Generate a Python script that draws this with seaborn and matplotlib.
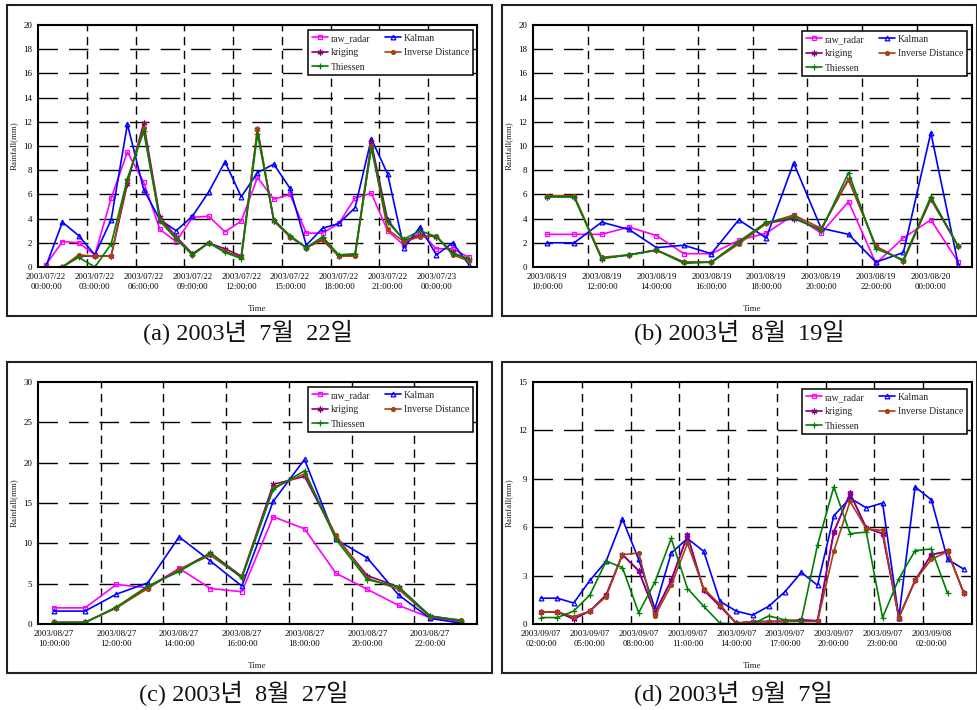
import numpy as np
import pandas as pd
import matplotlib
matplotlib.use('Agg')
import matplotlib.pyplot as plt
import seaborn as sns
from matplotlib.patches import Rectangle

# ---------------- data ----------------
ticks_a = ['2003/07/22\n00:00:00', '2003/07/22\n03:00:00', '2003/07/22\n06:00:00',
           '2003/07/22\n09:00:00', '2003/07/22\n12:00:00', '2003/07/22\n15:00:00',
           '2003/07/22\n18:00:00', '2003/07/22\n21:00:00', '2003/07/23\n00:00:00']
raw_a = [0.2, 2.1, 2.0, 1.0, 5.7, 9.5, 7.0, 3.1, 2.1, 4.1, 4.2, 2.9, 3.8, 7.4, 5.6, 6.0,
         2.8, 2.8, 3.6, 5.7, 6.1, 3.0, 1.8, 2.9, 1.5, 1.5, 0.8]
kal_a = [0.1, 3.7, 2.6, 1.0, 3.9, 11.8, 6.4, 3.9, 3.0, 4.2, 6.2, 8.7, 5.8, 7.8, 8.5, 6.5,
         1.8, 3.2, 3.6, 4.9, 10.6, 7.7, 1.6, 3.3, 1.0, 2.0, 0.2]
kri_a = [0.0, 0.0, 0.9, 0.9, 0.9, 6.9, 11.9, 4.1, 2.5, 1.1, 2.0, 1.5, 0.9, 11.4, 3.8, 2.5,
         1.6, 2.3, 0.9, 1.0, 10.3, 3.9, 2.2, 2.6, 2.5, 1.2, 0.6]
idw_a = [0.0, 0.0, 1.0, 0.9, 0.9, 7.2, 11.5, 3.9, 2.4, 1.0, 2.0, 1.3, 0.8, 11.4, 3.9, 2.5,
         1.6, 2.2, 0.9, 0.9, 10.0, 3.1, 2.1, 2.5, 2.6, 1.0, 0.5]
thi_a = [0.0, 0.0, 0.8, 0.0, 1.9, 7.3, 11.2, 3.8, 2.3, 1.0, 2.0, 1.2, 0.7, 11.0, 3.9, 2.6,
         1.6, 2.5, 1.0, 1.1, 9.8, 3.7, 2.3, 3.0, 2.5, 1.1, 0.7]

ticks_b = ['2003/08/19\n10:00:00', '2003/08/19\n12:00:00', '2003/08/19\n14:00:00',
           '2003/08/19\n16:00:00', '2003/08/19\n18:00:00', '2003/08/19\n20:00:00',
           '2003/08/19\n22:00:00', '2003/08/20\n00:00:00']
raw_b = [2.7, 2.7, 2.7, 3.3, 2.6, 1.1, 1.1, 2.2, 2.8, 4.3, 2.8, 5.4, 0.3, 2.4, 3.9, 0.4]
kal_b = [2.0, 2.0, 3.7, 3.1, 1.6, 1.8, 1.1, 3.9, 2.4, 8.6, 3.2, 2.7, 0.4, 1.2, 11.1, 0.2]
kri_b = [5.8, 5.8, 0.7, 1.0, 1.4, 0.4, 0.4, 2.0, 3.6, 4.0, 3.1, 7.3, 1.7, 0.5, 5.6, 1.7]
idw_b = [5.9, 5.9, 0.8, 1.0, 1.4, 0.4, 0.4, 1.9, 3.6, 4.3, 3.2, 7.2, 1.7, 0.5, 5.7, 1.7]
thi_b = [5.8, 5.8, 0.7, 1.0, 1.4, 0.3, 0.4, 2.1, 3.7, 4.1, 3.0, 7.8, 1.5, 0.6, 5.8, 1.7]

ticks_c = ['2003/08/27\n10:00:00', '2003/08/27\n12:00:00', '2003/08/27\n14:00:00',
           '2003/08/27\n16:00:00', '2003/08/27\n18:00:00', '2003/08/27\n20:00:00',
           '2003/08/27\n22:00:00']
raw_c = [2.0, 2.0, 4.9, 4.5, 6.9, 4.4, 4.0, 13.3, 11.8, 6.3, 4.3, 2.3, 0.8, 0.3]
kal_c = [1.6, 1.6, 3.7, 5.1, 10.8, 7.8, 4.7, 15.2, 20.4, 10.5, 8.2, 3.6, 0.7, 0.1]
kri_c = [0.2, 0.2, 2.0, 4.6, 6.7, 8.8, 5.9, 17.3, 18.3, 10.8, 6.0, 4.6, 1.0, 0.4]
idw_c = [0.2, 0.2, 2.0, 4.4, 6.8, 8.5, 5.8, 16.9, 18.6, 11.0, 5.7, 4.3, 0.9, 0.5]
thi_c = [0.2, 0.2, 2.1, 4.7, 6.5, 8.8, 5.7, 16.7, 19.0, 10.5, 5.5, 4.6, 1.0, 0.4]

ticks_d = ['2003/09/07\n02:00:00', '2003/09/07\n05:00:00', '2003/09/07\n08:00:00',
           '2003/09/07\n11:00:00', '2003/09/07\n14:00:00', '2003/09/07\n17:00:00',
           '2003/09/07\n20:00:00', '2003/09/07\n23:00:00', '2003/09/08\n02:00:00']
raw_d = [0.75, 0.75, 0.35, 0.8, 1.8, 4.3, 3.3, 0.7, 2.7, 5.5, 2.1, 1.1, 0.05, 0.15, 0.15,
         0.2, 0.25, 0.2, 5.7, 8.1, 5.95, 5.6, 0.4, 2.7, 4.3, 4.5, 1.9]
kal_d = [1.6, 1.6, 1.3, 2.7, 3.9, 6.5, 4.0, 0.95, 4.4, 5.3, 4.5, 1.4, 0.8, 0.55, 1.1,
         2.0, 3.2, 2.4, 6.7, 7.8, 7.2, 7.5, 0.4, 8.5, 7.7, 4.0, 3.4]
kri_d = [0.75, 0.75, 0.3, 0.8, 1.8, 4.3, 3.3, 0.7, 2.7, 5.5, 2.1, 1.1, 0.05, 0.15, 0.15,
         0.15, 0.25, 0.2, 5.7, 8.1, 5.95, 5.6, 0.4, 2.7, 4.3, 4.5, 1.9]
idw_d = [0.75, 0.75, 0.45, 0.8, 1.7, 4.3, 4.4, 0.5, 2.4, 5.0, 2.2, 1.2, 0.05, 0.15, 0.15,
         0.15, 0.15, 0.15, 4.5, 7.6, 5.9, 5.8, 0.4, 2.7, 4.0, 4.5, 1.9]
thi_d = [0.4, 0.4, 0.8, 1.8, 3.9, 3.5, 0.7, 2.6, 5.3, 2.2, 1.1, 0.05, 0.0, 0.0, 0.5,
         0.25, 0.2, 4.9, 8.5, 5.6, 5.7, 0.4, 2.8, 4.55, 4.65, 1.9, np.nan]

series_names = ['raw_radar', 'Kalman', 'kriging', 'Inverse Distance', 'Thiessen']
captions = ['(a) 2003년  7월  22일', '(b) 2003년  8월  19일', '(c) 2003년  8월  27일', '(d) 2003년  9월  7일']

# ---------------- style ----------------
sns.set_theme(style='white')
plt.rcParams['font.family'] = ['Liberation Serif', 'DejaVu Serif']

colors = {'raw_radar': '#FF00FF', 'Kalman': '#0000FF', 'kriging': '#800080',
          'Inverse Distance': '#A5420F', 'Thiessen': '#008000'}
markers = {'raw_radar': 's', 'Kalman': '^', 'kriging': (6, 2, 0),
           'Inverse Distance': 'o', 'Thiessen': '+'}
mfc = {'raw_radar': 'none', 'Kalman': 'none', 'kriging': 'none',
       'Inverse Distance': colors['Inverse Distance'], 'Thiessen': 'none'}
msize = {'raw_radar': 3.2, 'Kalman': 3.4, 'kriging': 4.2, 'Inverse Distance': 2.8, 'Thiessen': 4.5}

fig = plt.figure(figsize=(9.78, 7.10), dpi=100)
W, H = 978.0, 710.0

def fx(px):
    return px / W

def fy(py):
    return 1 - py / H

panels = [
    dict(data=[raw_a, kal_a, kri_a, idw_a, thi_a], ticks=ticks_a, step=3, ymax=20, ystep=2,
         ax=(38, 477, 25, 267), frame=(7, 492, 5, 316), cap=(248, 332), leg=(473, 30)),
    dict(data=[raw_b, kal_b, kri_b, idw_b, thi_b], ticks=ticks_b, step=2, ymax=20, ystep=2,
         ax=(533, 972, 25, 267), frame=(502, 977, 5, 316), cap=(739, 332), leg=(967, 31)),
    dict(data=[raw_c, kal_c, kri_c, idw_c, thi_c], ticks=ticks_c, step=2, ymax=30, ystep=5,
         ax=(38, 477, 382, 624), frame=(7, 492, 362, 673), cap=(244, 693), leg=(473, 387)),
    dict(data=[raw_d, kal_d, kri_d, idw_d, thi_d], ticks=ticks_d, step=3, ymax=15, ystep=3,
         ax=(533, 972, 382, 624), frame=(502, 977, 362, 673), cap=(733, 693), leg=(967, 389)),
]

for k, p in enumerate(panels):
    l, r, t, b = p['ax']
    ax = fig.add_axes([fx(l), fy(b), fx(r - l), (b - t) / H])
    n = len(p['data'][0])
    idx = np.arange(n)
    for name, vals in zip(series_names, p['data']):
        df = pd.DataFrame({'x': idx, 'y': vals}).dropna()
        sns.lineplot(data=df, x='x', y='y', ax=ax, color=colors[name], lw=1.2,
                     marker=markers[name], markersize=msize[name], markerfacecolor=mfc[name],
                     markeredgecolor=colors[name], markeredgewidth=0.9, label=name)
    ax.set_xlim(-0.5, n - 0.5)
    ax.set_ylim(0, p['ymax'])
    ax.set_xticks(np.arange(0, n, p['step'])[:len(p['ticks'])])
    ax.set_xticklabels(p['ticks'], fontsize=6.3, linespacing=1.35)
    yt = np.arange(0, p['ymax'] + 0.1, p['ystep'])
    ax.set_yticks(yt)
    ax.set_yticklabels([f'{v:g}' for v in yt], fontsize=6.5)
    ax.tick_params(axis='both', length=0, pad=4, colors='black')
    # grid lines
    for v in yt[1:-1]:
        ax.axhline(v, color='black', lw=1.0, dashes=(14, 8), zorder=0.5)
    for g in np.arange(p['step'] - 0.5, n - 1, p['step']):
        ax.axvline(g, color='black', lw=1.0, dashes=(6, 4), zorder=0.5)
    for s in ax.spines.values():
        s.set_visible(True)
        s.set_color('black')
        s.set_linewidth(1.5)
    ax.set_xlabel('Time', fontsize=6.5)
    ax.set_ylabel('Rainfall(mm)', fontsize=6.5)
    ax.xaxis.set_label_coords(0.5, -0.157)
    ax.yaxis.set_label_coords(-0.045, 0.5)
    # legend (row-major order like the reference)
    handles, labels = ax.get_legend_handles_labels()
    order = [0, 2, 4, 1, 3]
    lx, ly = p['leg']
    ax_w = r - l
    ax_h = b - t
    leg = ax.legend([handles[i] for i in order], [labels[i] for i in order], ncol=2,
                    loc='upper right', bbox_to_anchor=((lx - l) / ax_w, (b - ly) / ax_h),
                    borderaxespad=0, fontsize=7, frameon=True, fancybox=False,
                    edgecolor='black', framealpha=1, handlelength=1.7, handletextpad=0.25,
                    columnspacing=1.5, labelspacing=0.55, borderpad=0.4)
    leg.get_frame().set_linewidth(1.1)
    # panel frame
    fl, fr, ft, fb = p['frame']
    fig.patches.append(Rectangle((fx(fl), fy(fb)), fx(fr - fl), (fb - ft) / H,
                                 transform=fig.transFigure, fill=False,
                                 edgecolor='#222222', lw=1.5))
    cx, cy = p['cap']
    fig.text(fx(cx), fy(cy), captions[k], ha='center', va='center', fontsize=17.5,
             family=['Liberation Serif', 'Noto Sans CJK KR'], color='#111111')

fig.savefig('out.png', dpi=100)
